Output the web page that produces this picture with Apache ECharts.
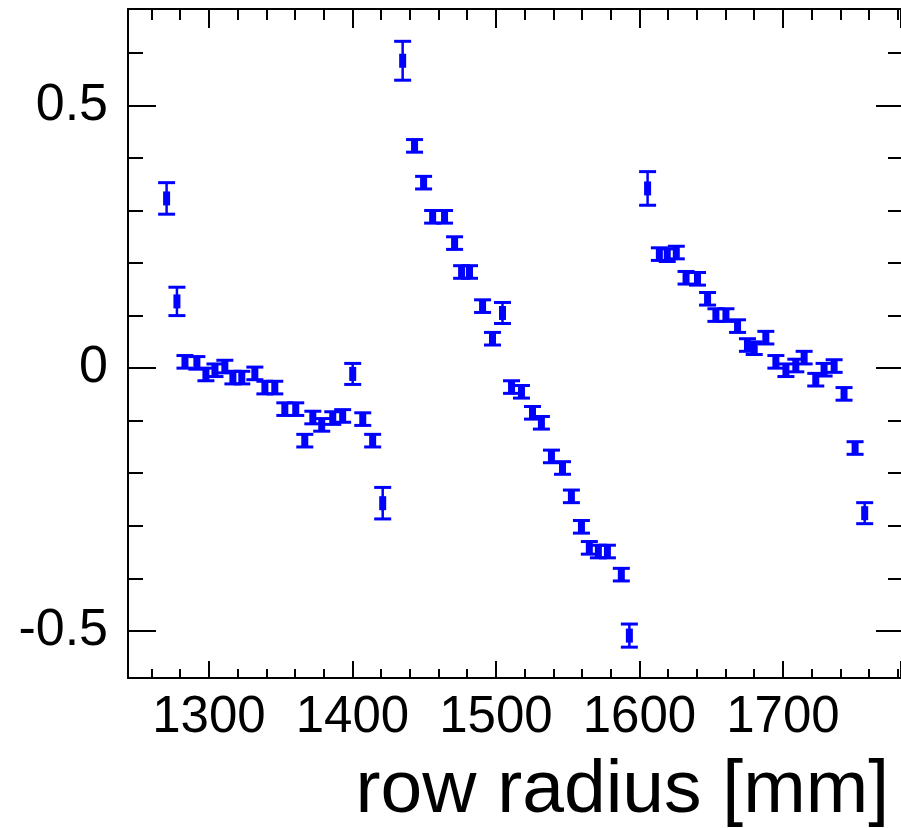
<!DOCTYPE html>
<html>
<head>
<meta charset="utf-8">
<script src="https://cdn.jsdelivr.net/npm/echarts@6/dist/echarts.min.js"></script>
<style>
html,body{margin:0;padding:0;background:#fff;}
#chart{width:901px;height:828px;}
</style>
</head>
<body>
<div id="chart"></div>
<script>
// Row radius [mm]
const rowRadius = [
  1270.5, 1277.7, 1283.3, 1291.6, 1297.9, 1304.2, 1311.1, 1316.7, 1322.9, 1332.0,
  1339.0, 1345.9, 1352.9, 1360.5, 1366.8, 1372.4, 1378.6, 1386.3, 1393.2, 1400.2,
  1407.2, 1414.1, 1421.1,
  1435.0, 1443.3, 1449.6, 1455.9, 1464.2, 1471.2, 1476.1, 1481.6, 1490.7, 1497.6,
  1504.6, 1510.9, 1517.8, 1525.5, 1531.7, 1538.7, 1546.4, 1552.6, 1559.6, 1565.1,
  1571.4, 1577.7, 1587.4, 1593.0,
  1605.7, 1613.9, 1619.4, 1625.7, 1632.5, 1640.5, 1647.5, 1653.3, 1660.3, 1668.4,
  1675.3, 1680.0, 1688.1, 1695.1, 1702.1, 1709.0, 1714.8, 1722.9, 1728.7, 1735.7,
  1742.6, 1750.3, 1757.0
];
// Measured value per row
const deviation = [
  0.323, 0.127, 0.012, 0.010, -0.012, -0.004, 0.003, -0.018, -0.018, -0.010,
  -0.037, -0.037, -0.078, -0.078, -0.138, -0.094, -0.108, -0.095, -0.091, -0.011,
  -0.097, -0.138, -0.257,
  0.585, 0.423, 0.353, 0.288, 0.288, 0.238, 0.183, 0.183, 0.118, 0.056,
  0.105, -0.036, -0.045, -0.085, -0.104, -0.168, -0.190, -0.244, -0.302, -0.342,
  -0.349, -0.349, -0.393, -0.509,
  0.342, 0.217, 0.215, 0.220, 0.172, 0.170, 0.132, 0.101, 0.101, 0.080,
  0.044, 0.038, 0.058, 0.012, -0.004, 0.005, 0.020, -0.022, -0.003, 0.004,
  -0.049, -0.152, -0.276
];
// Uncertainty per row
const deviationError = [
  0.030, 0.027, 0.012, 0.012, 0.012, 0.012, 0.012, 0.012, 0.012, 0.012,
  0.012, 0.012, 0.012, 0.012, 0.012, 0.012, 0.012, 0.012, 0.012, 0.020,
  0.012, 0.012, 0.030,
  0.037, 0.012, 0.012, 0.012, 0.012, 0.012, 0.012, 0.012, 0.012, 0.012,
  0.020, 0.012, 0.012, 0.012, 0.012, 0.012, 0.012, 0.012, 0.012, 0.012,
  0.012, 0.012, 0.012, 0.022,
  0.032, 0.012, 0.012, 0.012, 0.012, 0.012, 0.012, 0.012, 0.012, 0.012,
  0.012, 0.012, 0.012, 0.012, 0.012, 0.012, 0.012, 0.012, 0.012, 0.012,
  0.012, 0.012, 0.020
];
const xRange = [1243.6, 1782.3];
const yRange = [-0.5897, 0.6835];
const xTitle = 'row radius [mm]';

const FONT = '"Liberation Sans", Arial, Helvetica, sans-serif';
const BLUE = '#0000ff';
const points = rowRadius.map((r, i) => [r, deviation[i], deviationError[i]]);

function xAxisCfg(pos, major, minor, showLabels) {
  return {
    type: 'value', position: pos, min: xRange[0], max: xRange[1],
    splitNumber: 5, minInterval: 100, maxInterval: 100,
    axisLine: {show: true, onZero: false, lineStyle: {color: '#000', width: 2}},
    axisTick: {show: true, inside: true, length: major, lineStyle: {color: '#000', width: 2}},
    minorTick: {show: true, splitNumber: 5, length: minor, lineStyle: {color: '#000', width: 2}},
    splitLine: {show: false}, minorSplitLine: {show: false},
    axisLabel: {show: showLabels, showMinLabel: false, showMaxLabel: false,
      fontFamily: FONT, fontSize: 51, color: '#000', margin: 14,
      formatter: v => String(Math.round(v))}
  };
}
function yAxisCfg(pos, major, minor, showLabels, showLine) {
  return {
    type: 'value', position: pos, min: yRange[0], max: yRange[1],
    splitNumber: 3, minInterval: 0.5, maxInterval: 0.5,
    axisLine: {show: showLine, onZero: false, lineStyle: {color: '#000', width: 2}},
    axisTick: {show: true, inside: true, length: major, lineStyle: {color: '#000', width: 2}},
    minorTick: {show: true, splitNumber: 5, length: minor, lineStyle: {color: '#000', width: 2}},
    splitLine: {show: false}, minorSplitLine: {show: false},
    axisLabel: {show: showLabels, showMinLabel: false, showMaxLabel: false,
      fontFamily: FONT, fontSize: 52, color: '#000', margin: 20,
      formatter: v => String(Math.round(v * 10) / 10)}
  };
}

const chart = echarts.init(document.getElementById('chart'), null, {renderer: 'canvas'});
chart.setOption({
  animation: false,
  backgroundColor: '#fff',
  title: {
    text: xTitle, right: 12, top: 754, padding: 0,
    textStyle: {fontFamily: FONT, fontSize: 75, fontWeight: 'normal', color: '#000'}
  },
  grid: {left: 128, right: -1, top: 9, bottom: 150, containLabel: false},
  xAxis: [xAxisCfg('bottom', 17, 9, true), xAxisCfg('top', 19, 11, false)],
  yAxis: [yAxisCfg('left', 28, 15, true, true), yAxisCfg('right', 25, 13, false, false)],
  series: [
    {
      type: 'custom',
      xAxisIndex: 0, yAxisIndex: 0,
      data: points,
      renderItem: function (params, api) {
        const x = api.value(0), y = api.value(1), e = api.value(2);
        const top = api.coord([x, y + e]);
        const bot = api.coord([x, y - e]);
        const hw = 8.5;
        const vStyle = {stroke: BLUE, lineWidth: 2.5, fill: null};
        const cStyle = {stroke: BLUE, lineWidth: 3, fill: null};
        return {
          type: 'group',
          children: [
            {type: 'line', shape: {x1: top[0], y1: top[1], x2: bot[0], y2: bot[1]}, style: vStyle},
            {type: 'line', shape: {x1: top[0] - hw, y1: top[1], x2: top[0] + hw, y2: top[1]}, style: cStyle},
            {type: 'line', shape: {x1: bot[0] - hw, y1: bot[1], x2: bot[0] + hw, y2: bot[1]}, style: cStyle}
          ]
        };
      },
      z: 3
    },
    {
      type: 'scatter',
      xAxisIndex: 0, yAxisIndex: 0,
      data: points.map(p => [p[0], p[1]]),
      symbol: 'rect',
      symbolSize: [7, 14],
      itemStyle: {color: BLUE, opacity: 1},
      z: 4
    }
  ]
});
</script>
</body>
</html>
